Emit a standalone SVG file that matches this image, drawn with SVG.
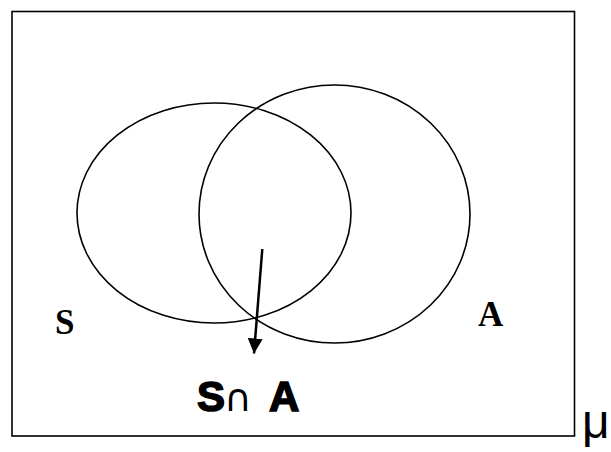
<svg xmlns="http://www.w3.org/2000/svg" width="611" height="452" viewBox="0 0 611 452">
<style>
.ln{fill:none;stroke:#000;stroke-width:1.6}
.lbl{font-family:"Liberation Serif",serif;font-weight:bold;font-size:35px;fill:#000}
.hv{font-weight:bold;stroke:#000;stroke-width:1.6}
</style>
<defs>
<marker id="ah" viewBox="0 0 10 10" refX="10" refY="5" markerWidth="6" markerHeight="6" orient="auto" markerUnits="strokeWidth">
<path d="M0,0 L10,5 L0,10 z" fill="#000"/>
</marker>
</defs>
<rect width="611" height="452" fill="#fff"/>
<g id="universe">
<rect x="12" y="11.5" width="562.5" height="424.5" class="ln" stroke-width="2"/>
<text x="582" y="438" font-family="Liberation Sans,sans-serif" font-size="48" fill="#000">μ</text>
</g>
<g id="S">
<ellipse cx="214" cy="213" rx="137" ry="110" class="ln"/>
<text x="55" y="334" class="lbl">S</text>
</g>
<g id="A">
<ellipse cx="334.5" cy="214" rx="135.5" ry="129" class="ln"/>
<text x="478" y="326" class="lbl">A</text>
</g>
<g id="connectors">
<line x1="262.3" y1="249" x2="254" y2="353.5" stroke="#000" stroke-width="2.5" marker-end="url(#ah)"/>
</g>
<g id="intersection">
<text y="411" font-family="Liberation Sans,sans-serif" font-size="42" fill="#000"><tspan x="197" class="hv">S</tspan><tspan x="224" font-family="DejaVu Sans,sans-serif" font-size="38">∩</tspan><tspan x="269" class="hv">A</tspan></text>
</g>
</svg>
